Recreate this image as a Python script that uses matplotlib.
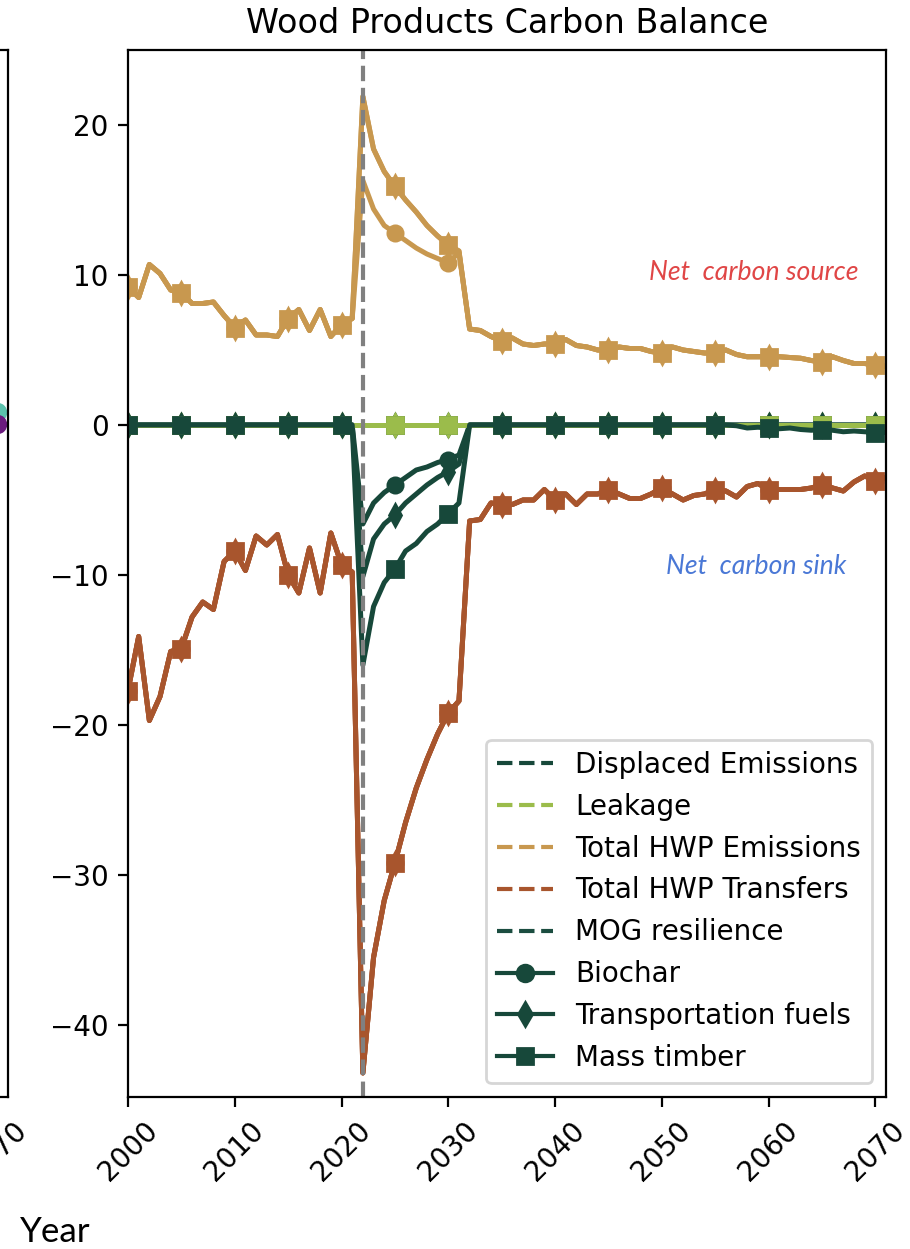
import numpy as np
import matplotlib.pyplot as plt
from matplotlib.lines import Line2D

years = np.arange(2000, 2072)
scenarios = ['Biochar', 'Transportation fuels', 'Mass timber']
markers = ['o', 'd', 's']

# 2000-2021, identical in every scenario
emissions_hist = [9.2, 8.5, 10.7, 10.1, 9.0, 8.8, 8.1, 8.1, 8.2, 7.3,
                  6.5, 7.0, 6.0, 6.0, 5.9, 7.1, 7.7, 6.3, 7.7, 5.9, 6.7, 7.1]
transfers_hist = [-17.7, -14.1, -19.7, -18.1, -15.1, -14.9, -12.8, -11.8, -12.3, -9.1,
                  -8.4, -9.7, -7.4, -8.0, -7.3, -10.0, -11.2, -8.2, -11.2, -7.2, -9.3, -9.8]

# 2022-2031 treatment window
emissions_biochar = [16.3, 14.4, 13.3, 12.8, 12.3, 11.8, 11.4, 11.1, 10.8, 11.5]
emissions_fuels = [21.9, 18.4, 16.9, 15.9, 15.0, 14.2, 13.3, 12.6, 12.0, 11.6]
emissions_timber = [21.9, 18.4, 16.9, 15.9, 15.0, 14.2, 13.3, 12.6, 12.0, 11.6]
transfers_window = [-43.2, -35.5, -31.7, -29.2, -26.5, -24.2, -22.3, -20.6, -19.2, -18.4]
displaced_biochar = [-6.6, -5.2, -4.5, -4.0, -3.5, -3.0, -2.8, -2.5, -2.3, -2.0]
displaced_fuels = [-10.1, -7.6, -6.6, -6.0, -5.2, -4.6, -4.0, -3.5, -3.1, -2.6]
displaced_timber = [-16.0, -12.1, -10.5, -9.6, -8.4, -7.9, -7.1, -6.6, -5.9, -5.2]

# 2032-2071
emissions_future = [6.4, 6.3, 5.9, 5.6, 5.8, 5.4, 5.3, 5.4, 5.4, 5.7,
                    5.3, 5.2, 5.0, 5.0, 5.2, 5.1, 5.1, 4.9, 4.8, 5.2,
                    5.0, 4.9, 4.8, 4.8, 5.0, 4.7, 4.55, 4.55, 4.55, 4.55,
                    4.5, 4.45, 4.3, 4.2, 4.55, 4.3, 4.1, 4.1, 4.0, 3.9]
transfers_future = [-6.4, -6.3, -5.2, -5.3, -5.3, -5.0, -5.0, -4.3, -5.0, -4.6,
                    -5.3, -4.6, -4.6, -4.3, -4.6, -4.9, -4.9, -4.6, -4.2, -4.6,
                    -5.0, -4.7, -4.6, -4.3, -4.4, -4.8, -4.1, -3.9, -4.3, -4.3,
                    -4.3, -4.3, -4.2, -4.0, -4.2, -4.4, -3.8, -3.4, -3.7, -3.5]
displaced_timber_late = [-0.05, -0.2, -0.15, -0.2, -0.25, -0.2, -0.3, -0.35,
                         -0.3, -0.35, -0.45, -0.4, -0.45, -0.5, -0.5]  # 2057-2071

# tail of the neighbouring panel
left_years = [2070]
left_teal = [0.9]
left_purple = [0.1]

labels = ['Displaced Emissions', 'Leakage', 'Total HWP Emissions',
          'Total HWP Transfers', 'MOG resilience']
colors = ['#17483a', '#9bbc4b', '#c8984f', '#a8552d', '#1b4d40']

zeros_hist = np.zeros(len(emissions_hist))
zeros_future = np.zeros(len(emissions_future))

emissions = [np.concatenate([emissions_hist, w, emissions_future])
             for w in (emissions_biochar, emissions_fuels, emissions_timber)]
transfers = np.concatenate([transfers_hist, transfers_window, transfers_future])
timber_future = np.concatenate([np.zeros(len(emissions_future) - len(displaced_timber_late)),
                                displaced_timber_late])
displaced = [np.concatenate([zeros_hist, displaced_biochar, zeros_future]),
             np.concatenate([zeros_hist, displaced_fuels, zeros_future]),
             np.concatenate([zeros_hist, displaced_timber, timber_future])]
leakage = np.zeros(len(years))
mog = np.zeros(len(years))

W, H = 910, 1249
fig = plt.figure(figsize=(W / 200, H / 200), dpi=200)
bottom = 1 - 1097 / H
height = 1047 / H
ax = fig.add_axes([128 / W, bottom, 758 / W, height])
ax0 = fig.add_axes([-750 / W, bottom, 758 / W, height])

# only the right edge of this panel shows
ax0.plot(left_years, left_teal, 'o', color='#5cc2ad', ms=6)
ax0.plot(left_years, left_purple, 'o', color='#6a1b7e', ms=6)
ax0.set_xlim(2000, 2071)
ax0.set_ylim(-44.8, 25)
ax0.set_xticks([2070])
ax0.set_yticks([])
ax0.tick_params(axis='x', labelrotation=45)

for i in range(len(scenarios)):
    kw = dict(marker=markers[i], markevery=5, ms=5.5, lw=1.8)
    ax.plot(years, mog, color=colors[4], **kw)
    ax.plot(years, leakage, color=colors[1], **kw)
    ax.plot(years, emissions[i], color=colors[2], **kw)
    ax.plot(years, transfers, color=colors[3], **kw)
    ax.plot(years, displaced[i], color=colors[0], **kw)

ax.axvline(2022, color='gray', ls='--', lw=1.5)

ax.text(2058.6, 10.2, 'Net  carbon source', color='#e04646', style='italic',
        family='Lato', fontsize=9.6, ha='center', va='center')
ax.text(2058.8, -9.4, 'Net  carbon sink', color='#4a78d6', style='italic',
        family='Lato', fontsize=9.6, ha='center', va='center')

ax.set_xlim(2000, 2071)
ax.set_ylim(-44.8, 25)
ax.set_xticks(np.arange(2000, 2071, 10))
ax.tick_params(axis='x', labelrotation=45)
ax.set_title('Wood Products Carbon Balance', fontsize=12)

handles = [Line2D([], [], color=c, ls='--') for c in colors]
handles += [Line2D([], [], color=colors[0], marker=m) for m in markers]
ax.legend(handles, labels + scenarios, loc='lower right')

fig.text(20 / W, 1 - 1232 / H, 'Year', family='Lato', fontsize=12.6,
         ha='left', va='center')

fig.savefig('out.png', dpi=200)
